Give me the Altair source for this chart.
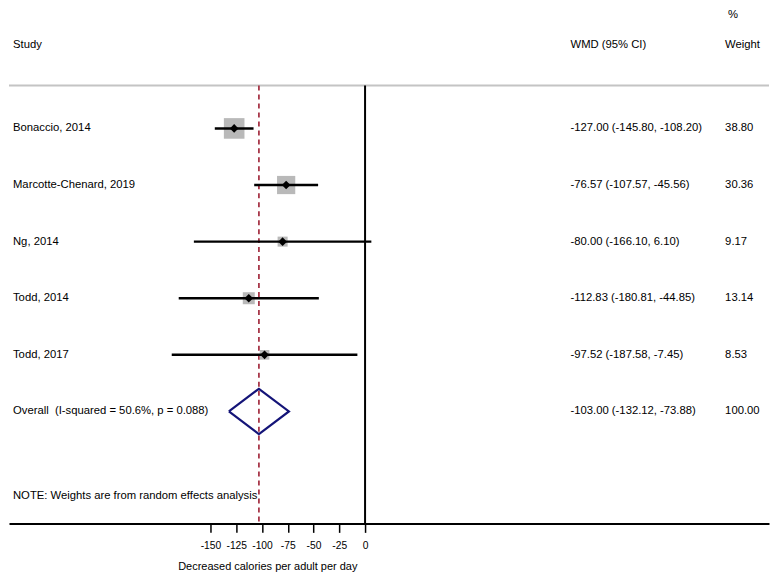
import altair as alt
import pandas as pd

# ---------------- data ----------------
studies = ["Bonaccio, 2014", "Marcotte-Chenard, 2019", "Ng, 2014", "Todd, 2014", "Todd, 2017"]
wmd = [-127.00, -76.57, -80.00, -112.83, -97.52]
ci_low = [-145.80, -107.57, -166.10, -180.81, -187.58]
ci_high = [-108.20, -45.56, 6.10, -44.85, -7.45]
weights = [38.80, 30.36, 9.17, 13.14, 8.53]

overall_label = "Overall\u00a0 (I-squared = 50.6%, p = 0.088)"
overall_wmd = -103.00
overall_low = -132.12
overall_high = -73.88
overall_weight = 100.00

note_text = "NOTE: Weights are from random effects analysis"
x_ticks = [-150, -125, -100, -75, -50, -25, 0]
x_title = "Decreased calories per adult per day"

# ---------------- layout ----------------
W, H = 762, 516
PX_PER_UNIT = 155 / 150
ZERO_PX = 357
x_dom = [-ZERO_PX / PX_PER_UNIT, (W - ZERO_PX) / PX_PER_UNIT]
ROW_PX = 56.75
FIRST_ROW_PX = 120
y_dom = [1 - FIRST_ROW_PX / ROW_PX, 1 + (H - FIRST_ROW_PX) / ROW_PX]
HEADER_LINE_Y = 77
FONT = "Liberation Sans"
FS = 11.3

xs = alt.Scale(domain=x_dom, nice=False, zero=False)
ys = alt.Scale(domain=y_dom, nice=False, zero=False, reverse=True)

x_axis = alt.Axis(
    values=x_ticks,
    title=x_title,
    grid=False,
    domainColor="black",
    domainWidth=2,
    tickColor="black",
    tickWidth=1.5,
    tickSize=9,
    labelFont=FONT,
    labelFontSize=10.3,
    labelColor="black",
    labelPadding=8,
    labelExpr="'' + datum.value",
    labelFlush=False,
    titleFont=FONT,
    titleFontSize=11,
    titleFontWeight="normal",
    titleColor="black",
    titleX=259,
    titleY=43,
    titleBaseline="middle",
    titleAnchor="middle",
)


def X(field):
    return alt.X(field, scale=xs, axis=x_axis)


n = len(studies)
rows = pd.DataFrame({
    "label": studies,
    "row": list(range(1, n + 1)),
    "wmd": wmd,
    "lo": ci_low,
    "hi": ci_high,
    "weight": weights,
})
rows["ci_text"] = [f"{m:.2f} ({l:.2f}, {h:.2f})" for m, l, h in zip(wmd, ci_low, ci_high)]
rows["wt_text"] = [f"{w:.2f}" for w in weights]

overall_row = n + 1
overall_df = pd.DataFrame({
    "label": [overall_label],
    "row": [overall_row],
    "ci_text": [f"{overall_wmd:.2f} ({overall_low:.2f}, {overall_high:.2f})"],
    "wt_text": [f"{overall_weight:.2f}"],
    "wmd": [overall_wmd],
})
HALF = 0.40
diamond_df = pd.DataFrame({
    "x": [overall_low, overall_wmd, overall_high, overall_wmd, overall_low],
    "y": [overall_row, overall_row - HALF, overall_row, overall_row + HALF, overall_row],
    "o": [0, 1, 2, 3, 4],
})
note_df = pd.DataFrame({"label": [note_text], "row": [overall_row + 1.5]})
one = pd.DataFrame({"zero": [0]})

Y = alt.Y("row:Q", scale=ys, axis=None)

header_line = alt.Chart(one).mark_rule(color="#c4c4c4", strokeWidth=2).encode(
    x=alt.value(0), x2=alt.value(W), y=alt.value(HEADER_LINE_Y)
)
zero_line = alt.Chart(one).mark_rule(color="black", strokeWidth=2).encode(
    x=X("zero:Q"), y=alt.value(HEADER_LINE_Y), y2=alt.value(H)
)
overall_line = alt.Chart(overall_df).mark_rule(
    color="#a8384a", strokeWidth=1.8, strokeDash=[5, 4]
).encode(x=X("wmd:Q"), y=alt.value(HEADER_LINE_Y), y2=alt.value(H))

squares = alt.Chart(rows).mark_square(color="#b9b9b9", opacity=1).encode(
    x=X("wmd:Q"),
    y=Y,
    size=alt.Size("weight:Q", scale=alt.Scale(domain=[0, 40], range=[0, 440]), legend=None),
)
ci = alt.Chart(rows).mark_rule(color="black", strokeWidth=2.5).encode(
    x=X("lo:Q"),
    x2="hi:Q",
    y=Y,
)
points = alt.Chart(rows).mark_point(shape="diamond", filled=True, color="black", size=75, opacity=1).encode(
    x=X("wmd:Q"), y=Y
)
diamond = alt.Chart(diamond_df).mark_line(color="#141478", strokeWidth=2.2, strokeJoin="miter").encode(
    x=X("x:Q"),
    y=alt.Y("y:Q", scale=ys, axis=None),
    order=alt.Order("o:Q"),
)


def txt(df, field, xpos):
    return alt.Chart(df).mark_text(
        align="left", baseline="middle", font=FONT, fontSize=FS, color="black"
    ).encode(x=alt.value(xpos), y=Y, text=f"{field}:N")


study_text = txt(rows, "label", 4)
ci_text = txt(rows, "ci_text", 563)
wt_text = txt(rows, "wt_text", 718)
ov_text = txt(overall_df, "label", 4)
ov_ci = txt(overall_df, "ci_text", 563)
ov_wt = txt(overall_df, "wt_text", 718)
note = txt(note_df, "label", 4)


def header(t, xpos, ypos):
    return alt.Chart(one).mark_text(
        text=t, align="left", baseline="middle", font=FONT, fontSize=FS, color="black"
    ).encode(x=alt.value(xpos), y=alt.value(ypos))


headers = [
    header("Study", 4, 36),
    header("WMD (95% CI)", 563, 36),
    header("Weight", 718, 36),
    header("%", 721, 6.5),
]

chart = alt.layer(
    header_line, zero_line, overall_line, squares, ci, points, diamond,
    study_text, ci_text, wt_text, ov_text, ov_ci, ov_wt, note, *headers
).properties(width=W, height=H, padding=0).configure_view(stroke=None)

chart.save("out.html", embed_options={"renderer": "svg", "actions": False})
